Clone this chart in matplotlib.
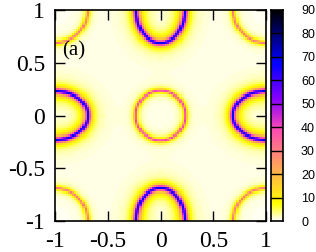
import numpy as np
import matplotlib.pyplot as plt
from matplotlib.colors import ListedColormap

# contour features (centre, semi-axes, peak value, line width)
ring_x = [0.0, 1.0, -1.0, 1.0, -1.0, 0.0, 0.0, 1.0, -1.0]
ring_y = [0.0, 1.0, 1.0, -1.0, -1.0, 1.0, -1.0, 0.0, 0.0]
ring_ax = [0.235, 0.31, 0.31, 0.31, 0.31, 0.232, 0.232, 0.313, 0.313]
ring_ay = [0.235, 0.31, 0.31, 0.31, 0.31, 0.313, 0.313, 0.232, 0.232]
ring_peak = [40, 30, 30, 30, 30, 63, 63, 63, 63]
ring_w = [0.012, 0.013, 0.013, 0.013, 0.013, 0.022, 0.022, 0.022, 0.022]
# yellow glow on the inside of the blue arcs
ring_glow = [0, 0, 0, 0, 0, 5, 5, 5, 5]
background = 0.35

cb_ticks = [0, 10, 20, 30, 40, 50, 60, 70, 80, 90]
xy_ticks = [-1, -0.5, 0, 0.5, 1]
xy_labels = ['-1', '-0.5', '0', '0.5', '1']


# gnuplot "rgbformulae 30,31,32" palette, negative
def gnu_palette(n=256):
    x = 1 - np.linspace(0, 1, n)
    r = np.clip(x / 0.32 - 0.78125, 0, 1)
    g = np.clip(2 * x - 0.84, 0, 1)
    b = np.where(x < 0.25, 4 * x,
        np.where(x < 0.42, 1.0,
        np.where(x < 0.92, -2 * x + 1.84, x / 0.08 - 11.5)))
    b = np.clip(b, 0, 1)
    return ListedColormap(np.column_stack([r, g, b]))


cmap = gnu_palette()

n = 100
k = np.linspace(-1, 1, n + 1)
k = 0.5 * (k[1:] + k[:-1])
KX, KY = np.meshgrid(k, k)

A = np.full(KX.shape, background)
for cx, cy, ax_, ay_, p, w, gl in zip(ring_x, ring_y, ring_ax, ring_ay,
                                      ring_peak, ring_w, ring_glow):
    dx = KX - cx
    dy = KY - cy
    r = np.sqrt((dx / ax_) ** 2 + (dy / ay_) ** 2) + 1e-9
    grad = np.sqrt((dx / ax_ ** 2) ** 2 + (dy / ay_ ** 2) ** 2) / r + 1e-9
    d = (r - 1) / grad
    A += p / (1 + (d / w) ** 2)
    if gl:
        A += np.where(d < 0, gl * np.exp(d / 0.08), 0)

fig = plt.figure(figsize=(3.16, 2.52), dpi=100)
ax = fig.add_axes([55 / 316, 31 / 252, 211 / 316, 211 / 252])
ax.imshow(A, origin='lower', extent=[-1, 1, -1, 1], cmap=cmap,
          vmin=0, vmax=90, interpolation='nearest', aspect='auto')
ax.set_xlim(-1, 1)
ax.set_ylim(-1, 1)
ax.set_xticks(xy_ticks)
ax.set_xticklabels(xy_labels)
ax.set_yticks(xy_ticks)
ax.set_yticklabels(xy_labels)
ax.tick_params(direction='in', length=7, width=1, top=True, right=True,
               labelsize=17, pad=7)
for lab in ax.get_xticklabels() + ax.get_yticklabels():
    lab.set_family('Liberation Serif')
for s in ax.spines.values():
    s.set_linewidth(1.2)
ax.text(-0.93, 0.61, '(a)', fontsize=15, family='Liberation Serif',
        va='center', ha='left')

# colour box
cax = fig.add_axes([271 / 316, 31 / 252, 12 / 316, 211 / 252])
grad_img = np.linspace(0, 90, 256).reshape(-1, 1)
cax.imshow(grad_img, origin='lower', extent=[0, 1, 0, 90], cmap=cmap,
           vmin=0, vmax=90, aspect='auto')
for t in cb_ticks[1:-1]:
    cax.axhline(t, color='black', lw=1)
cax.set_xlim(0, 1)
cax.set_ylim(0, 90)
cax.set_xticks([])
cax.yaxis.tick_right()
cax.set_yticks(cb_ticks)
cax.tick_params(axis='y', length=0, labelsize=9, pad=13)
for lab in cax.get_yticklabels():
    lab.set_family('Liberation Sans')
for s in cax.spines.values():
    s.set_linewidth(1.2)

fig.savefig('out.png', dpi=100)
